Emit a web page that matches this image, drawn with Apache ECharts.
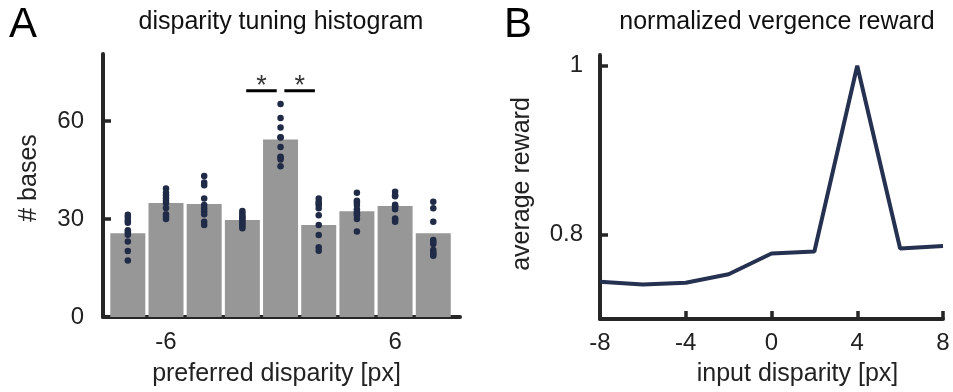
<!DOCTYPE html>
<html>
<head>
<meta charset="utf-8">
<script src="https://cdn.jsdelivr.net/npm/echarts@6/dist/echarts.min.js"></script>
<style>
html,body{margin:0;padding:0;background:#fff;}
#chart{width:953px;height:392px;}
</style>
</head>
<body>
<div id="chart"></div>
<script>
// ---------- Panel A data ----------
const disparities = [-8, -6, -4, -2, 0, 2, 4, 6, 8];
const basesCount = [25.7, 34.9, 34.6, 29.7, 54.4, 28.2, 32.4, 34.0, 25.7];
const basesM8 = [31.3, 30.6, 29.6, 26.6, 26.0, 25.2, 23.1, 20.2, 17.3, 28.9];
const basesM6 = [39.4, 38.1, 36.4, 35.6, 34.9, 33.4, 31.5, 30.8, 30.0, 37.2];
const basesM4 = [43.2, 41.2, 40.4, 36.3, 34.3, 32.4, 31.5, 29.2, 28.2, 33.3];
const basesM2 = [32.5, 31.8, 31.0, 30.3, 29.6, 29.0, 28.4, 27.8, 27.2, 30.6];
const bases0  = [65.3, 61.0, 58.1, 55.1, 52.1, 49.1, 48.3, 46.2, 48.9, 55.0];
const basesP2 = [36.3, 35.3, 34.3, 33.3, 31.2, 28.2, 25.1, 21.4, 20.3, 34.8];
const basesP4 = [38.1, 35.1, 34.3, 32.2, 31.2, 30.0, 26.2, 33.0, 35.6, 31.7];
const basesP6 = [38.4, 37.3, 34.4, 33.0, 30.2, 29.2, 37.0, 33.8, 29.8, 34.0];
const basesP8 = [35.3, 33.3, 29.2, 23.6, 22.4, 19.8, 18.8, 20.5, 23.0, 19.3];
const basesPerBar = [basesM8, basesM6, basesM4, basesM2, bases0, basesP2, basesP4, basesP6, basesP8];
const sigPairs = [[-2, 0], [0, 2]];
const sigLevel = 69.3;
const histXTicks = [-6, 6];
const histYTicks = [0, 30, 60];

// ---------- Panel B data ----------
const inputDisparity = [-8, -6, -4, -2, 0, 2, 4, 6, 8];
const avgReward = [0.744, 0.741, 0.743, 0.753, 0.7775, 0.780, 1.0, 0.7835, 0.7865];
const rewXTicks = [-8, -4, 0, 4, 8];
const rewYTicks = [0.8, 1];

// ---------- build ----------
const FONT = 'Liberation Sans';
const AXC = '#262626';
const TXT = '#222';
const DOT = '#202b48';

const barData = disparities.map((d, i) => [d, basesCount[i]]);
const dotData = [];
disparities.forEach((d, i) => basesPerBar[i].forEach(v => dotData.push([d, v])));
const rewardData = inputDisparity.map((d, i) => [d, avgReward[i]]);
const starData = sigPairs.map(p => [(p[0] + p[1]) / 2, sigLevel]);

function axisCommon(ticks, labelMargin) {
  return {
    axisLine: {show: true, onZero: false, lineStyle: {color: AXC, width: 4}},
    axisTick: {show: true, inside: true, length: 8, customValues: ticks, lineStyle: {color: AXC, width: 3.5}},
    axisLabel: {show: true, customValues: ticks, margin: labelMargin, color: TXT, fontSize: 24, fontFamily: FONT},
    splitLine: {show: false}
  };
}
const nameStyle = (pad) => ({fontSize: 25, fontFamily: FONT, color: TXT, padding: pad});

const bracketSeries = sigPairs.map(p => ({
  type: 'line', xAxisIndex: 0, yAxisIndex: 0,
  data: [[p[0] + 0.2, sigLevel], [p[1] - 0.2, sigLevel]],
  symbol: 'none', silent: true,
  lineStyle: {color: '#000', width: 3}, z: 5
}));

const option = {
  animation: false,
  backgroundColor: '#fff',
  grid: [
    {left: 103, top: 54, width: 357, height: 264},
    {left: 600, top: 55, width: 343, height: 264}
  ],
  xAxis: [
    Object.assign({type: 'value', gridIndex: 0, min: -9.3, max: 9.4,
      name: 'preferred disparity [px]', nameLocation: 'middle', nameGap: 45,
      nameTextStyle: nameStyle([0, 10, 0, 0])}, axisCommon(histXTicks, 13)),
    Object.assign({type: 'value', gridIndex: 1, min: -8, max: 8,
      name: 'input disparity [px]', nameLocation: 'middle', nameGap: 43,
      nameTextStyle: nameStyle([0, 0, 0, 52])}, axisCommon(rewXTicks, 12))
  ],
  yAxis: [
    Object.assign({type: 'value', gridIndex: 0, min: 0, max: 80.6,
      name: '# bases', nameLocation: 'middle', nameGap: 61,
      nameTextStyle: nameStyle([0, 0, 0, 15])}, axisCommon(histYTicks, 19)),
    Object.assign({type: 'value', gridIndex: 1, min: 0.7, max: 1.0127,
      name: 'average reward', nameLocation: 'middle', nameGap: 65,
      nameTextStyle: nameStyle([0, 0, 0, 6])}, axisCommon(rewYTicks, 17))
  ],
  graphic: [
    {type: 'text', left: 9, top: 4, style: {text: 'A', font: '42px "Liberation Sans"', fill: '#000'}},
    {type: 'text', left: 504, top: 4, style: {text: 'B', font: '42px "Liberation Sans"', fill: '#000'}},
    {type: 'text', x: 281, y: 22, style: {text: 'disparity tuning histogram', font: '25px "Liberation Sans"', fill: '#111', textAlign: 'center', textVerticalAlign: 'middle'}},
    {type: 'text', x: 777, y: 22, style: {text: 'normalized vergence reward', font: '25px "Liberation Sans"', fill: '#111', textAlign: 'center', textVerticalAlign: 'middle'}}
  ],
  series: [
    {type: 'bar', xAxisIndex: 0, yAxisIndex: 0, data: barData, barWidth: 35,
      itemStyle: {color: '#979797'}, silent: true, z: 2},
    {type: 'scatter', xAxisIndex: 0, yAxisIndex: 0, data: dotData, symbolSize: 6.5,
      itemStyle: {color: DOT, opacity: 1}, silent: true, z: 4},
    ...bracketSeries,
    {type: 'scatter', xAxisIndex: 0, yAxisIndex: 0, data: starData,
      symbolSize: 0, silent: true, z: 6,
      label: {show: true, position: 'top', distance: 0, offset: [0, 9], formatter: '*', fontSize: 27, fontFamily: FONT, color: '#000'}},
    {type: 'line', xAxisIndex: 1, yAxisIndex: 1, data: rewardData, symbol: 'none',
      lineStyle: {color: '#253150', width: 4}, silent: true, z: 3}
  ]
};

const chart = echarts.init(document.getElementById('chart'), null, {renderer: 'canvas'});
chart.setOption(option);
</script>
</body>
</html>
